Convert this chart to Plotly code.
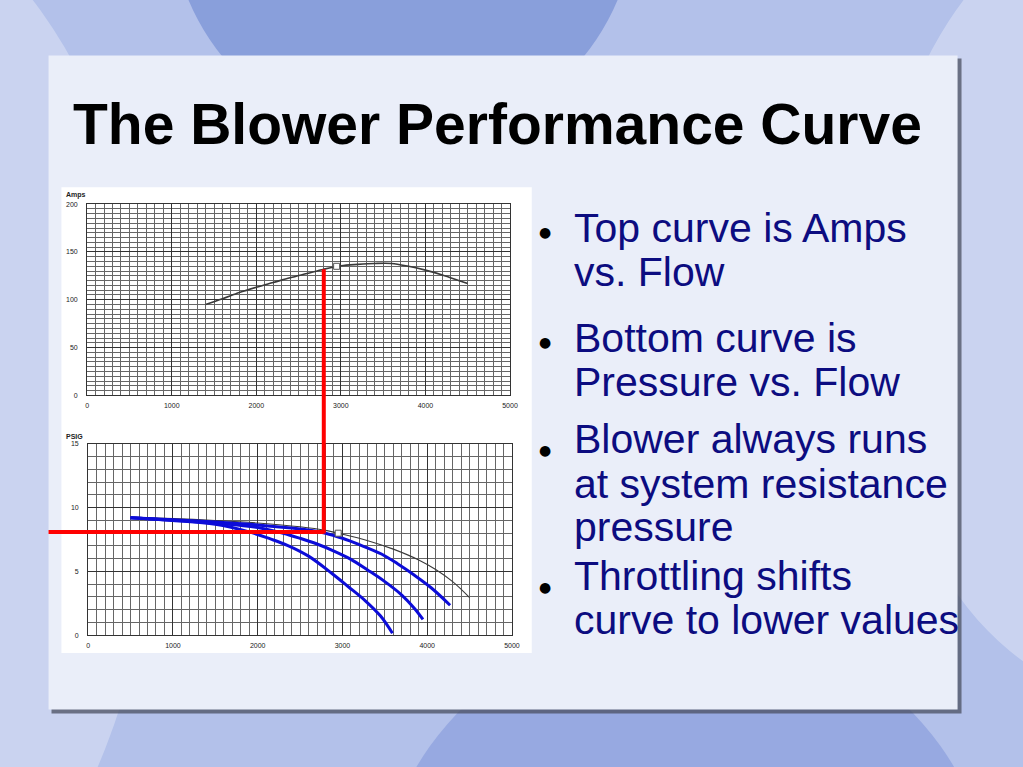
import plotly.graph_objects as go

W, H = 1023, 767

# ---------------- data ----------------
flow_amps = [1400, 1600, 1800, 2000, 2200, 2400, 2600, 2800, 3000, 3200, 3400, 3600, 3800, 4000, 4200, 4400, 4500]
amps = [95, 101, 107.5, 113, 118, 123, 127.5, 132, 135.5, 137, 138, 138, 135, 131, 126, 120, 117]

flow_psi_full = [500, 1000, 1500, 2000, 2500, 2800, 3000, 3300, 3600, 3900, 4100, 4300, 4500]
psi_full = [9.25, 9.15, 9.0, 8.8, 8.5, 8.22, 7.92, 7.41, 6.75, 5.9, 5.15, 4.2, 2.95]

flow_thr1 = [500, 1000, 1500, 2000, 2400, 2600, 2800, 3000, 3200, 3460, 3650, 3850, 4050, 4270]
psi_thr1 = [9.22, 9.05, 8.88, 8.65, 8.4, 8.25, 8.0, 7.6, 7.1, 6.37, 5.6, 4.7, 3.7, 2.35]
flow_thr2 = [500, 1000, 1500, 2000, 2300, 2500, 2700, 2900, 3100, 3300, 3500, 3700, 3850, 3950]
psi_thr2 = [9.22, 9.02, 8.78, 8.45, 8.0, 7.6, 7.15, 6.6, 5.95, 5.1, 4.2, 3.15, 2.1, 1.24]
flow_thr3 = [500, 1000, 1500, 1900, 2150, 2350, 2600, 2880, 3070, 3270, 3450, 3590]
psi_thr3 = [9.22, 9.0, 8.7, 8.1, 7.55, 7.05, 6.2, 4.82, 3.8, 2.7, 1.5, 0.15]

rated_flow = [2950]
rated_amps = [135]
rated_psi = [8.0]

op_flow = 2780
op_amps = 132
op_psi = 8.1

x_ticks = [0, 1000, 2000, 3000, 4000, 5000]
amps_ticks = [0, 50, 100, 150, 200]
psi_ticks = [0, 5, 10, 15]

title_text = "The Blower Performance Curve"
bullets = [
    ["Top curve is Amps", "vs. Flow"],
    ["Bottom curve is", "Pressure vs. Flow"],
    ["Blower always runs", "at system resistance", "pressure"],
    ["Throttling shifts", "curve to lower values"],
]

# ---------------- layout helpers (pixel -> paper) ----------------
def px(x):
    return x / W

def py(y):
    return 1 - y / H

X1_DOM = [px(86), px(513)]
Y1_DOM = [py(395), py(202)]
X2_DOM = [px(87), px(515)]
Y2_DOM = [py(637), py(444)]
X_RANGE = [0, 5000]
Y1_RANGE = [0, 200]
Y2_RANGE = [0, 15]

def to_paper(v, rng, dom):
    return dom[0] + (v - rng[0]) / (rng[1] - rng[0]) * (dom[1] - dom[0])

fig = go.Figure()

GRAY = "#3a3a3a"
BLUE = "#0c0cd8"

fig.add_trace(go.Scatter(x=flow_amps, y=amps, mode="lines", line=dict(color=GRAY, width=1.6, shape="spline"),
                         xaxis="x", yaxis="y", showlegend=False, hoverinfo="skip"))
fig.add_trace(go.Scatter(x=flow_psi_full, y=psi_full, mode="lines", line=dict(color=GRAY, width=1.1, shape="spline"),
                         xaxis="x2", yaxis="y2", showlegend=False, hoverinfo="skip"))
for fx, fy in [(flow_thr1, psi_thr1), (flow_thr2, psi_thr2), (flow_thr3, psi_thr3)]:
    fig.add_trace(go.Scatter(x=fx, y=fy, mode="lines", line=dict(color=BLUE, width=3, shape="spline"),
                             xaxis="x2", yaxis="y2", showlegend=False, hoverinfo="skip"))
fig.add_trace(go.Scatter(x=rated_flow, y=rated_amps, mode="markers",
                         marker=dict(symbol="square", size=6, color="white", line=dict(color="#555", width=1)),
                         xaxis="x", yaxis="y", showlegend=False, hoverinfo="skip"))
fig.add_trace(go.Scatter(x=rated_flow, y=rated_psi, mode="markers",
                         marker=dict(symbol="square", size=6, color="white", line=dict(color="#555", width=1)),
                         xaxis="x2", yaxis="y2", showlegend=False, hoverinfo="skip"))

tickfont = dict(family="Liberation Sans", size=7, color="#222")

def xaxis(dom, anchor):
    return dict(domain=dom, range=X_RANGE, anchor=anchor, tickvals=x_ticks, ticks="",
                tickfont=tickfont, ticklabelstandoff=3, showgrid=True, gridcolor="#333", gridwidth=1.2,
                zeroline=False, showline=True, linecolor="#333", linewidth=1, mirror=True, fixedrange=True,
                minor=dict(dtick=100, showgrid=True, gridcolor="#666", gridwidth=0.8))

def yaxis(dom, anchor, rng, tv, mdt):
    return dict(domain=dom, range=rng, anchor=anchor, tickvals=tv, ticks="",
                tickfont=tickfont, ticklabelstandoff=7, showgrid=True, gridcolor="#333", gridwidth=1.2,
                zeroline=False, showline=True, linecolor="#333", linewidth=1, mirror=True, fixedrange=True,
                minor=dict(dtick=mdt, showgrid=True, gridcolor="#666", gridwidth=0.8))

shapes = []
# background swooshes
shapes.append(dict(type="circle", xref="paper", yref="paper", x0=px(170), x1=px(640), y0=py(140), y1=py(-330),
                   fillcolor="#7b93d6", opacity=0.75, line=dict(width=0), layer="below"))
shapes.append(dict(type="circle", xref="paper", yref="paper", x0=px(-500), x1=px(160), y0=py(1000), y1=py(-120),
                   fillcolor="#ffffff", opacity=0.3, line=dict(width=0), layer="below"))
shapes.append(dict(type="circle", xref="paper", yref="paper", x0=px(380), x1=px(1000), y0=py(1200), y1=py(620),
                   fillcolor="#7f96d8", opacity=0.55, line=dict(width=0), layer="below"))
shapes.append(dict(type="circle", xref="paper", yref="paper", x0=px(880), x1=px(1400), y0=py(700), y1=py(-100),
                   fillcolor="#ffffff", opacity=0.3, line=dict(width=0), layer="below"))
# panel shadow + panel
shapes.append(dict(type="rect", xref="paper", yref="paper", x0=px(50), x1=px(969), y0=py(716), y1=py(55),
                   fillcolor="#4a4f60", opacity=0.75, line=dict(width=0), layer="below"))
shapes.append(dict(type="rect", xref="paper", yref="paper", x0=px(47), x1=px(965), y0=py(712), y1=py(52),
                   fillcolor="#eaeef9", line=dict(width=0), layer="below"))
# white chart image area
shapes.append(dict(type="rect", xref="paper", yref="paper", x0=px(60), x1=px(535), y0=py(655), y1=py(185),
                   fillcolor="#ffffff", line=dict(width=0), layer="below"))
# red operating point lines
y_bot = to_paper(op_psi, Y2_RANGE, Y2_DOM)
y_top = to_paper(op_amps, Y1_RANGE, Y1_DOM)
x_op = to_paper(op_flow, X_RANGE, X2_DOM)
shapes.append(dict(type="line", xref="x2", yref="paper", x0=op_flow, x1=op_flow, y0=y_bot - 0.002, y1=y_top,
                   line=dict(color="#ff0000", width=4), layer="above"))
shapes.append(dict(type="line", xref="paper", yref="y2", x0=px(47), x1=x_op, y0=op_psi, y1=op_psi,
                   line=dict(color="#ff0000", width=4), layer="above"))

annotations = []
annotations.append(dict(text="<b>" + title_text + "</b>", xref="paper", yref="paper", x=px(500), y=py(121),
                        xanchor="center", yanchor="middle", showarrow=False,
                        font=dict(family="Liberation Sans", size=57, color="#000000")))
annotations.append(dict(text="<b>Amps</b>", xref="paper", yref="paper", x=px(63), y=py(193),
                        xanchor="left", yanchor="middle", showarrow=False, font=tickfont))
annotations.append(dict(text="<b>PSIG</b>", xref="paper", yref="paper", x=px(63), y=py(436),
                        xanchor="left", yanchor="middle", showarrow=False, font=tickfont))

line_centers = [[226, 270], [337, 381], [439, 484, 528], [577, 622]]
bullet_centers = [230, 341, 450, 588]
TXT = "#0c0c80"
for para, centers, bc in zip(bullets, line_centers, bullet_centers):
    annotations.append(dict(text="\u25cf", xref="paper", yref="paper", x=px(548), y=py(bc),
                            xanchor="center", yanchor="middle", showarrow=False,
                            font=dict(family="DejaVu Sans", size=14, color="#000000")))
    for line, c in zip(para, centers):
        annotations.append(dict(text=line, xref="paper", yref="paper", x=px(576), y=py(c),
                                xanchor="left", yanchor="middle", showarrow=False,
                                font=dict(family="Liberation Sans", size=41, color=TXT)))

fig.update_layout(
    width=W, height=H, autosize=False,
    margin=dict(l=0, r=0, t=0, b=0, pad=0),
    paper_bgcolor="#b3c1ea", plot_bgcolor="#ffffff",
    xaxis=xaxis(X1_DOM, "y"),
    yaxis=yaxis(Y1_DOM, "x", Y1_RANGE, amps_ticks, 5),
    xaxis2=xaxis(X2_DOM, "y2"),
    yaxis2=yaxis(Y2_DOM, "x2", Y2_RANGE, psi_ticks, 1),
    shapes=shapes, annotations=annotations, showlegend=False,
)

fig.write_html("out.html", config={"displayModeBar": False},
               post_script="document.body.style.margin='0';document.body.style.overflow='hidden';")
